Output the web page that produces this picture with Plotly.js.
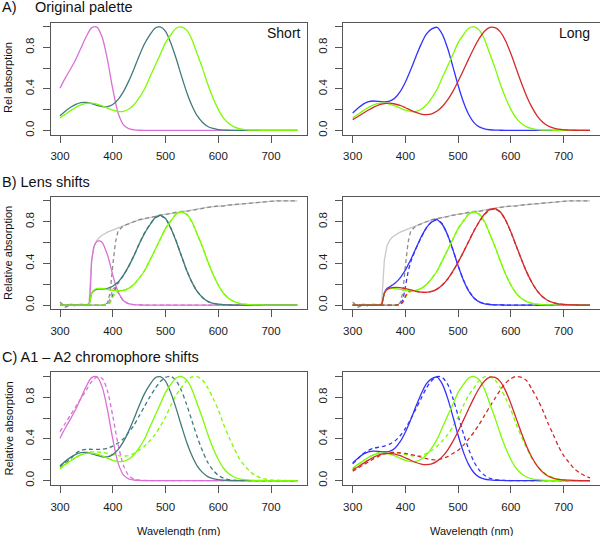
<!DOCTYPE html>
<html>
<head>
<meta charset="utf-8">
<script src="https://cdn.plot.ly/plotly-3.0.1.min.js"></script>
<style>html,body{margin:0;padding:0;background:#fff}#chart{width:600px;height:536px}</style>
</head>
<body>
<div id="chart"></div>
<script>
// ---------- DATA ----------
// wavelengths (nm) for panels A and C
const wave = [300,310,320,330,340,350,360,370,380,390,400,410,420,430,440,450,460,470,480,490,500,510,520,530,540,550,560,570,580,590,600,610,620,630,640,650,660,670,680,690,700,710,720,730,740,750];

// A1 pigments (solid)
const violetA1 = [0.406,0.504,0.592,0.686,0.796,0.907,0.988,0.996,0.897,0.679,0.399,0.170,0.056,0.016,0.005,0.001,0,0,0,0,0,0,0,0,0,0,0,0,0,0,0,0,0,0,0,0,0,0,0,0,0,0,0,0,0,0];
const tealA1 = [0.142,0.184,0.222,0.251,0.268,0.269,0.257,0.242,0.228,0.228,0.249,0.296,0.371,0.472,0.590,0.717,0.832,0.918,0.985,0.997,0.955,0.842,0.695,0.528,0.370,0.240,0.141,0.078,0.037,0.018,0.008,0.003,0.001,0,0,0,0,0,0,0,0,0,0,0,0,0];
const greenA1 = [0.120,0.155,0.190,0.222,0.246,0.260,0.262,0.253,0.236,0.214,0.194,0.182,0.184,0.204,0.247,0.314,0.396,0.509,0.621,0.732,0.846,0.922,0.985,0.998,0.966,0.877,0.738,0.600,0.447,0.313,0.202,0.118,0.066,0.034,0.017,0.008,0.003,0.002,0.001,0,0,0,0,0,0,0];
const blueA1 = [0.168,0.214,0.253,0.276,0.283,0.279,0.274,0.281,0.311,0.373,0.466,0.584,0.713,0.834,0.930,0.978,0.993,0.926,0.791,0.615,0.432,0.273,0.153,0.075,0.033,0.014,0.006,0.002,0.001,0,0,0,0,0,0,0,0,0,0,0,0,0,0,0,0,0];
const redA1 = [0.103,0.133,0.165,0.196,0.224,0.246,0.258,0.262,0.254,0.240,0.218,0.195,0.173,0.157,0.152,0.160,0.186,0.230,0.293,0.376,0.473,0.580,0.689,0.794,0.886,0.955,0.992,0.990,0.950,0.861,0.738,0.597,0.456,0.327,0.221,0.138,0.081,0.044,0.023,0.011,0.005,0.003,0.001,0,0,0];

// A2 pigments (dashed)
const violetA2 = [0.47,0.55,0.63,0.71,0.79,0.87,0.95,0.995,0.98,0.86,0.62,0.35,0.15,0.05,0.015,0.004,0.001,0,0,0,0,0,0,0,0,0,0,0,0,0,0,0,0,0,0,0,0,0,0,0,0,0,0,0,0,0];
const tealA2 = [0.13,0.17,0.21,0.26,0.29,0.30,0.30,0.30,0.30,0.31,0.33,0.36,0.40,0.46,0.53,0.62,0.71,0.80,0.88,0.95,0.99,1.0,0.96,0.865,0.73,0.575,0.42,0.285,0.175,0.10,0.05,0.022,0.009,0.003,0.001,0,0,0,0,0,0,0,0,0,0,0];
const greenA2 = [0.11,0.15,0.19,0.22,0.25,0.27,0.275,0.275,0.27,0.26,0.25,0.24,0.235,0.24,0.26,0.29,0.33,0.38,0.44,0.52,0.61,0.72,0.82,0.89,0.96,0.995,0.997,0.965,0.89,0.79,0.68,0.54,0.42,0.31,0.21,0.143,0.088,0.05,0.027,0.014,0.007,0.003,0.0015,0,0,0];
const blueA2 = [0.16,0.21,0.26,0.29,0.31,0.32,0.33,0.35,0.38,0.43,0.50,0.59,0.69,0.79,0.89,0.96,0.998,0.99,0.925,0.79,0.62,0.45,0.30,0.18,0.10,0.05,0.022,0.009,0.003,0.001,0,0,0,0,0,0,0,0,0,0,0,0,0,0,0,0];
const redA2 = [0.09,0.12,0.15,0.18,0.21,0.235,0.255,0.265,0.27,0.265,0.26,0.25,0.24,0.225,0.21,0.20,0.20,0.21,0.23,0.26,0.29,0.34,0.40,0.465,0.54,0.625,0.71,0.79,0.87,0.935,0.978,0.999,0.99,0.958,0.875,0.785,0.68,0.555,0.444,0.33,0.24,0.175,0.115,0.075,0.046,0.026];

// wavelengths (nm) for panel B (lens-filtered)
const waveB = [300,310,320,330,340,350,355,360,365,370,375,380,390,395,400,405,410,420,430,440,450,460,470,480,490,500,510,520,530,540,550,560,570,580,590,600,610,620,630,640,650,660,670,680,690,700,710,720,730,740,750];
const lensSolid = [0.02,-0.01,0.01,0.0,0.01,0.0,0.02,0.43,0.57,0.62,0.65,0.67,0.70,0.71,0.72,0.735,0.745,0.765,0.785,0.80,0.815,0.825,0.835,0.85,0.865,0.87,0.875,0.885,0.895,0.905,0.915,0.925,0.935,0.94,0.945,0.95,0.955,0.96,0.965,0.97,0.975,0.98,0.985,0.99,0.995,1.0,1.0,1.0,1.0,1.0,1.0];
const lensDashed = [0.03,-0.02,0.0,-0.01,0.0,0.0,0.0,0.0,0.0,0.0,0.0,0.0,0.02,0.12,0.38,0.60,0.71,0.76,0.78,0.80,0.82,0.83,0.84,0.85,0.86,0.87,0.88,0.89,0.90,0.90,0.91,0.92,0.93,0.94,0.945,0.95,0.95,0.96,0.965,0.97,0.97,0.975,0.985,0.99,0.99,1.0,1.0,1.0,1.0,1.0,1.0];

const violetLensS = [0,0,0,0,0,0,0.005,0.42,0.57,0.61,0.615,0.60,0.48,0.39,0.29,0.20,0.13,0.043,0.013,0.004,0.001,0,0,0,0,0,0,0,0,0,0,0,0,0,0,0,0,0,0,0,0,0,0,0,0,0,0,0,0,0,0];
const violetLensD = [0,0,0,0,0,0,0,0,0,0,0,0,0.014,0.065,0.15,0.17,0.12,0.043,0.012,0.004,0.001,0,0,0,0,0,0,0,0,0,0,0,0,0,0,0,0,0,0,0,0,0,0,0,0,0,0,0,0,0,0];
const tealLensS = [0,0,0,0,0,0,0.005,0.11,0.14,0.15,0.155,0.153,0.16,0.17,0.18,0.20,0.22,0.284,0.371,0.472,0.584,0.686,0.766,0.837,0.862,0.831,0.737,0.615,0.473,0.335,0.22,0.13,0.073,0.035,0.017,0.008,0.003,0.001,0,0,0,0,0,0,0,0,0,0,0,0,0];
const tealLensD = [0,0,0,0,0,0,0,0,0,0,0,0,0.005,0.028,0.095,0.16,0.21,0.282,0.368,0.472,0.588,0.69,0.771,0.837,0.857,0.831,0.741,0.619,0.475,0.333,0.218,0.13,0.073,0.035,0.017,0.008,0.003,0.001,0,0,0,0,0,0,0,0,0,0,0,0,0];
const greenLensS = [0,0,0,0,0,0,0.005,0.113,0.147,0.157,0.159,0.158,0.15,0.145,0.14,0.138,0.136,0.141,0.16,0.198,0.256,0.327,0.425,0.528,0.633,0.736,0.805,0.872,0.893,0.874,0.802,0.683,0.561,0.42,0.296,0.192,0.113,0.063,0.033,0.017,0.008,0.003,0.002,0.001,0,0,0,0,0,0,0];
const greenLensD = [0,0,0,0,0,0,0,0,0,0,0,0,0.004,0.024,0.074,0.113,0.129,0.14,0.159,0.198,0.257,0.329,0.428,0.528,0.63,0.736,0.81,0.877,0.898,0.869,0.798,0.679,0.558,0.42,0.296,0.192,0.112,0.063,0.033,0.017,0.007,0.003,0.002,0.001,0,0,0,0,0,0,0];
const blueLensS = [0,0,0,0,0,0,0.006,0.118,0.158,0.174,0.191,0.208,0.261,0.297,0.336,0.386,0.435,0.545,0.655,0.744,0.797,0.819,0.773,0.672,0.532,0.376,0.239,0.135,0.067,0.03,0.012,0.005,0.002,0.001,0,0,0,0,0,0,0,0,0,0,0,0,0,0,0,0,0];
const blueLensD = [0,0,0,0,0,0,0,0,0,0,0,0,0.007,0.05,0.177,0.315,0.415,0.542,0.65,0.744,0.802,0.824,0.778,0.672,0.529,0.376,0.24,0.136,0.068,0.03,0.012,0.005,0.002,0.001,0,0,0,0,0,0,0,0,0,0,0,0,0,0,0,0,0];
const redLensS = [0,0,0,0,0,0,0.005,0.111,0.148,0.162,0.168,0.17,0.168,0.163,0.157,0.152,0.145,0.132,0.123,0.122,0.13,0.153,0.192,0.249,0.325,0.412,0.508,0.61,0.711,0.802,0.874,0.918,0.926,0.893,0.814,0.701,0.57,0.438,0.316,0.214,0.135,0.079,0.043,0.023,0.011,0.005,0.003,0.001,0,0,0];
const redLensD = [0,0,0,0,0,0,0,0,0,0,0,0,0.005,0.027,0.083,0.124,0.138,0.131,0.122,0.122,0.131,0.154,0.193,0.249,0.323,0.412,0.51,0.613,0.715,0.797,0.869,0.913,0.921,0.893,0.814,0.701,0.567,0.438,0.316,0.214,0.134,0.079,0.043,0.023,0.011,0.005,0.003,0.001,0,0,0];

const xTicks = [300,400,500,600,700];
const yTicks = [0,0.2,0.4,0.6,0.8,1.0];
const yTickText = ['0.0','','0.4','','0.8',''];

// ---------- STYLE ----------
const C = {violet:'#DA70D6', teal:'#427A7A', green:'#7CFC00', blue:'#3333FF', red:'#D42A2A', lensS:'#C8C8C8', lensD:'#8C8C8C'};
const LW = 1.3;
const DASH = '4px,3px';

function tr(x, y, color, dashed, ax, shape, smooth){
  return {x:x, y:y, xaxis:'x'+(ax===1?'':ax), yaxis:'y'+(ax===1?'':ax), type:'scatter', mode:'lines',
    line:{color:color, width:LW, dash:dashed?DASH:'solid', shape:shape||'spline', smoothing:(smooth===undefined?0.8:smooth)},
    hoverinfo:'skip', showlegend:false};
}

const data = [];
// A left
data.push(tr(wave, violetA1, C.violet, false, 1));
data.push(tr(wave, tealA1, C.teal, false, 1));
data.push(tr(wave, greenA1, C.green, false, 1));
// A right
data.push(tr(wave, blueA1, C.blue, false, 2));
data.push(tr(wave, greenA1, C.green, false, 2));
data.push(tr(wave, redA1, C.red, false, 2));
// B left
const SB = 0.45;
data.push(tr(waveB, lensSolid, C.lensS, false, 3, 'linear'));
data.push(tr(waveB, lensDashed, C.lensD, true, 3, 'linear'));
data.push(tr(waveB, violetLensD, C.violet, true, 3, 'spline', SB));
data.push(tr(waveB, tealLensD, C.teal, true, 3, 'spline', SB));
data.push(tr(waveB, greenLensD, C.green, true, 3, 'spline', SB));
data.push(tr(waveB, violetLensS, C.violet, false, 3, 'spline', SB));
data.push(tr(waveB, tealLensS, C.teal, false, 3, 'spline', SB));
data.push(tr(waveB, greenLensS, C.green, false, 3, 'spline', SB));
// B right
data.push(tr(waveB, lensSolid, C.lensS, false, 4, 'linear'));
data.push(tr(waveB, lensDashed, C.lensD, true, 4, 'linear'));
data.push(tr(waveB, blueLensD, C.blue, true, 4, 'spline', SB));
data.push(tr(waveB, greenLensD, C.green, true, 4, 'spline', SB));
data.push(tr(waveB, redLensD, C.red, true, 4, 'spline', SB));
data.push(tr(waveB, blueLensS, C.blue, false, 4, 'spline', SB));
data.push(tr(waveB, greenLensS, C.green, false, 4, 'spline', SB));
data.push(tr(waveB, redLensS, C.red, false, 4, 'spline', SB));
// C left
data.push(tr(wave, violetA2, C.violet, true, 5));
data.push(tr(wave, tealA2, C.teal, true, 5));
data.push(tr(wave, greenA2, C.green, true, 5));
data.push(tr(wave, violetA1, C.violet, false, 5));
data.push(tr(wave, tealA1, C.teal, false, 5));
data.push(tr(wave, greenA1, C.green, false, 5));
// C right
data.push(tr(wave, blueA2, C.blue, true, 6));
data.push(tr(wave, greenA2, C.green, true, 6));
data.push(tr(wave, redA2, C.red, true, 6));
data.push(tr(wave, blueA1, C.blue, false, 6));
data.push(tr(wave, greenA1, C.green, false, 6));
data.push(tr(wave, redA1, C.red, false, 6));

const W = 600, H = 536;
const xDom = {L:[50.5/W, 306.9/W], R:[343.2/W, 599.5/W]};
const yDom = {A:[1-134.5/H, 1-22.5/H], B:[1-309.2/H, 1-196.7/H], C:[1-484.7/H, 1-372.2/H]};
const fontFam = 'Liberation Sans, Arial, sans-serif';
const axCol = '#555555';

function xa(dom, anchor){
  return {domain:dom, anchor:anchor, range:[282,768], tickvals:xTicks, ticktext:xTicks.map(String),
    ticks:'outside', ticklen:7, tickwidth:1, tickcolor:axCol, showline:true, linecolor:axCol, linewidth:1,
    mirror:true, showgrid:false, zeroline:false, tickfont:{family:fontFam, size:11.5, color:'#1a1a1a'},
    ticklabelstandoff:4, fixedrange:true};
}
function ya(dom, anchor){
  return {domain:dom, anchor:anchor, range:[-0.04,1.04], tickvals:yTicks, ticktext:yTickText,
    ticks:'outside', ticklen:7, tickwidth:1, tickcolor:axCol, showline:true, linecolor:axCol, linewidth:1,
    mirror:true, showgrid:false, zeroline:false, tickangle:-90, tickfont:{family:fontFam, size:11.5, color:'#1a1a1a'},
    ticklabelstandoff:4, fixedrange:true};
}

function ann(text, x, y, xanchor, size, angle){
  return {text:text, x:x, y:y, xref:'paper', yref:'paper', xanchor:xanchor, yanchor:'middle', showarrow:false,
    textangle:angle||0, font:{family:fontFam, size:size, color:'#111'}};
}

const layout = {
  width:W, height:H, margin:{l:0,r:0,t:0,b:0}, paper_bgcolor:'#fff', plot_bgcolor:'#fff', showlegend:false,
  xaxis:xa(xDom.L,'y'), yaxis:ya(yDom.A,'x'),
  xaxis2:xa(xDom.R,'y2'), yaxis2:ya(yDom.A,'x2'),
  xaxis3:xa(xDom.L,'y3'), yaxis3:ya(yDom.B,'x3'),
  xaxis4:xa(xDom.R,'y4'), yaxis4:ya(yDom.B,'x4'),
  xaxis5:xa(xDom.L,'y5'), yaxis5:ya(yDom.C,'x5'),
  xaxis6:xa(xDom.R,'y6'), yaxis6:ya(yDom.C,'x6'),
  annotations:[
    ann('A)', 0, 1-7/H, 'left', 14.5),
    ann('Original palette', 33/W, 1-7/H, 'left', 14.5),
    ann('B) Lens shifts', 0, 1-181.5/H, 'left', 14.5),
    ann('C) A1 \u2013 A2 chromophore shifts', 0, 1-356.5/H, 'left', 14.5),
    ann('Short', 303/W, 1-33/H, 'right', 14),
    ann('Long', 592/W, 1-33/H, 'right', 14),
    ann('Rel absorption', 8/W, 1-78/H, 'center', 11, -90),
    ann('Relative absorption', 8/W, 1-253/H, 'center', 11, -90),
    ann('Relative absorption', 8/W, 1-428.5/H, 'center', 11, -90),
    ann('Wavelength (nm)', 178.7/W, 1-530.5/H, 'center', 11),
    ann('Wavelength (nm)', 471.3/W, 1-530.5/H, 'center', 11)
  ]
};

Plotly.newPlot('chart', data, layout, {displayModeBar:false, staticPlot:true});
</script>
</body>
</html>
